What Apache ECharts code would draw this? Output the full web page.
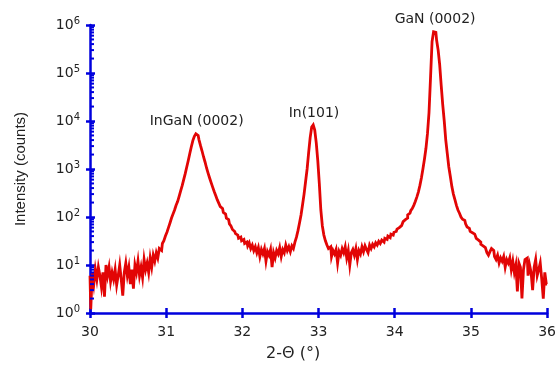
<!DOCTYPE html>
<html><head><meta charset="utf-8">
<script src="https://cdn.jsdelivr.net/npm/echarts@6/dist/echarts.min.js"></script>
<style>html,body{margin:0;padding:0;background:#fff}#c{width:559px;height:365px}</style>
</head><body><div id="c"></div>
<script>
// 2-theta grid: start and step of the scan
const xStart = 30.0;
const xStep = 0.02;
// Intensity (counts), one value per 0.02 deg step, rows of 0.1 deg
const intensity = [
  6, 1.2, 7, 4, 8,
  5, 9, 6, 3.5, 7,
  2.2, 10, 6, 9, 4.5,
  7, 5, 8, 3.8, 6,
  10, 5, 2.3, 7, 11,
  6, 9, 4, 8, 3.2,
  10, 7, 12, 6, 9,
  5.5, 13, 8, 11, 7,
  14, 9, 16, 12, 18,
  14, 22, 20, 28, 32,
  40, 48, 60, 75, 95,            // 31.0
  115, 140, 175, 210, 270,
  350, 450, 600, 800, 1100,
  1500, 2100, 2900, 3900, 4800,
  5400, 5000, 4100, 3100, 2400,
  1800, 1400, 1050, 820, 650,
  520, 420, 340, 280, 230,
  195, 165, 150, 125, 115,
  95, 88, 72, 65, 55,
  50, 45, 42, 36, 38,
  32, 34, 28, 30, 25,            // 32.0
  29, 22, 26, 20, 24,
  18, 23, 15, 21, 17,
  22, 12, 19, 16, 21,
  9, 18, 14, 20, 17,
  23, 15, 21, 18, 26,
  20, 24, 19, 25, 22,
  30, 38, 52, 75, 110,
  180, 300, 550, 1000, 2200,
  4500, 7500, 8300, 6500, 3500,
  1500, 500, 140, 65, 42,        // 33.0
  32, 26, 22, 24, 15,
  20, 17, 21, 11, 19,
  16, 22, 18, 24, 14,
  20, 10, 18, 21, 16,
  22, 13, 20, 17, 24,
  19, 25, 21, 18, 26,
  22, 27, 24, 29, 26,
  31, 28, 33, 30, 36,
  34, 40, 37, 44, 42,
  48, 50, 56, 60, 66,            // 34.0
  72, 80, 88, 95, 110,
  120, 135, 150, 175, 210,
  260, 330, 450, 650, 1000,
  1600, 2700, 5500, 15000, 80000,
  450000, 720000, 700000, 480000, 300000,
  150000, 55000, 22000, 10000, 4000,
  2100, 1100, 700, 430, 300,
  230, 175, 140, 120, 100,
  90, 85, 72, 62, 58,
  50, 47, 44, 40, 36,            // 35.0
  33, 30, 27, 25, 23,
  21, 18, 16, 19, 22,
  20, 15, 13, 16, 11,
  14, 12, 15, 9, 13,
  11, 14, 8, 12, 7,
  10, 2.8, 11, 9, 2.0,
  8, 13, 14, 6, 10,
  7, 3, 9, 13, 6,
  8, 11, 5, 2.0, 7,
  4                              // 36.0
];
const xTicks = [30, 31, 32, 33, 34, 35, 36];
const yDecades = [0, 1, 2, 3, 4, 5, 6];
const peakNames = ['InGaN (0002)', 'In(101)', 'GaN (0002)'];
const peakX = [31.40, 32.94, 34.53];
const peakY = [5400, 8300, 720000];

const blue = '#0000dd';
const red = '#e20505';
const txt = '#222';

const seriesData = intensity.map((v, i) => [+(xStart + i * xStep).toFixed(2), v]);
const minorTicks = [];
for (let k = 0; k < yDecades.length - 1; k++) {
  for (let m = 2; m <= 9; m++) minorTicks.push([xTicks[0], m * Math.pow(10, yDecades[k])]);
}

const chart = echarts.init(document.getElementById('c'), null, {renderer: 'canvas'});
chart.setOption({
  animation: false,
  backgroundColor: '#fff',
  grid: {left: 90, right: 11, top: 25, bottom: 52, containLabel: false},
  xAxis: [{
    type: 'value', min: xTicks[0], max: xTicks[xTicks.length - 1], interval: 1,
    axisLine: {lineStyle: {color: blue, width: 2.5}},
    axisTick: {inside: false, length: 5, lineStyle: {color: blue, width: 2.5}},
    axisLabel: {fontFamily: 'DejaVu Sans', fontSize: 14, color: txt, margin: 12},
    splitLine: {show: false}
  }, {
    type: 'value', min: xTicks[0], max: xTicks[xTicks.length - 1], interval: 1, position: 'bottom',
    axisLine: {show: false},
    axisTick: {inside: true, length: 5, lineStyle: {color: blue, width: 2.5}},
    axisLabel: {show: false}, splitLine: {show: false}
  }],
  yAxis: [{
    type: 'log', logBase: 10, min: Math.pow(10, yDecades[0]), max: Math.pow(10, yDecades[yDecades.length - 1]),
    axisLine: {lineStyle: {color: blue, width: 2.5}},
    axisTick: {inside: false, length: 4, lineStyle: {color: blue, width: 2.5}},
    axisLabel: {
      margin: 10,
      formatter: v => '{b|10}{s|' + Math.round(Math.log10(v)) + '}',
      rich: {
        b: {fontFamily: 'DejaVu Sans', fontSize: 14, color: txt},
        s: {fontFamily: 'DejaVu Sans', fontSize: 10, color: txt, verticalAlign: 'top', padding: [0, 0, 8, 0]}
      }
    },
    splitLine: {show: false},
    name: 'Intensity (counts)', nameLocation: 'middle', nameRotate: 90, nameGap: 62,
    nameTextStyle: {fontFamily: 'Liberation Sans', fontSize: 15, color: txt}
  }, {
    type: 'log', logBase: 10, min: Math.pow(10, yDecades[0]), max: Math.pow(10, yDecades[yDecades.length - 1]), position: 'left',
    axisLine: {show: false},
    axisTick: {inside: true, length: 5, lineStyle: {color: blue, width: 2.5}},
    axisLabel: {show: false}, splitLine: {show: false}
  }],
  graphic: [{
    type: 'text', left: 266, top: 346,
    style: {text: '2-\u0398 (\u00b0)', font: '16px "DejaVu Sans"', fill: txt}
  }],
  series: [{
    type: 'line', xAxisIndex: 0, yAxisIndex: 0, step: 'middle',
    data: seriesData, showSymbol: false, symbol: 'none',
    lineStyle: {color: red, width: 2.8, join: 'miter'}, z: 3,
    markPoint: {
      symbol: 'circle', symbolSize: 0, silent: true,
      data: peakNames.map((n, i) => ({name: n, coord: [peakX[i], peakY[i]]})),
      label: {show: true, position: 'top', distance: 5, formatter: '{b}',
        fontFamily: 'DejaVu Sans', fontSize: 14, color: txt}
    }
  }, {
    type: 'custom', xAxisIndex: 0, yAxisIndex: 0, silent: true, clip: false, z: 5,
    data: minorTicks,
    encode: {x: 0, y: 1},
    renderItem: (params, api) => {
      const p = api.coord([api.value(0), api.value(1)]);
      return {type: 'line', shape: {x1: p[0], y1: p[1], x2: p[0] + 4, y2: p[1]},
        style: {stroke: blue, lineWidth: 2}};
    }
  }]
});
</script>
</body></html>
